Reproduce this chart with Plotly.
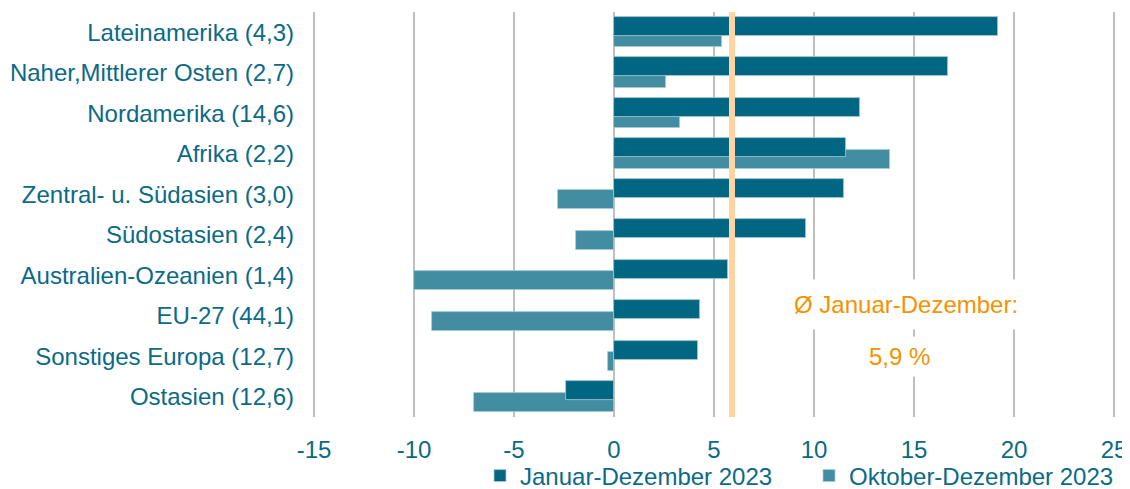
import plotly.graph_objects as go

categories = [
    "Lateinamerika (4,3)",
    "Naher,Mittlerer Osten (2,7)",
    "Nordamerika (14,6)",
    "Afrika (2,2)",
    "Zentral- u. Südasien (3,0)",
    "Südostasien (2,4)",
    "Australien-Ozeanien (1,4)",
    "EU-27 (44,1)",
    "Sonstiges Europa (12,7)",
    "Ostasien (12,6)",
]
jan_dez = [19.2, 16.7, 12.3, 11.6, 11.5, 9.6, 5.7, 4.3, 4.2, -2.4]
okt_dez = [5.4, 2.6, 3.3, 13.8, -2.8, -1.9, -10.0, -9.1, -0.3, -7.0]
avg_value = 5.9
avg_label_1 = "Ø Januar-Dezember:"
avg_label_2 = "5,9 %"
x_ticks = [-15, -10, -5, 0, 5, 10, 15, 20, 25]

DARK = "#006682"
LIGHT = "#428DA2"
TEXT = "#0B6A86"
ORANGE = "#F39300"
FONT = "Liberation Sans, Arial, sans-serif"
FS = 24

fig = go.Figure()
fig.add_trace(go.Bar(
    y=categories, x=okt_dez, orientation="h", name="Oktober-Dezember 2023",
    marker=dict(color=LIGHT, line=dict(color="#A8CBD6", width=0.8)),
    width=0.47, offset=-0.095, legendrank=2,
))
fig.add_trace(go.Bar(
    y=categories, x=jan_dez, orientation="h", name="Januar-Dezember 2023",
    marker=dict(color=DARK, line=dict(color="#A8CBD6", width=0.8)),
    width=0.47, offset=-0.381, legendrank=1,
))

fig.add_shape(type="line", xref="x", yref="paper", x0=avg_value, x1=avg_value,
              y0=0, y1=1, line=dict(color="#FFD3A2", width=6), layer="above")

fig.add_annotation(x=14.6, y=0.215, xref="x", yref="paper", text=avg_label_1,
                   showarrow=False, bgcolor="white", borderpad=11,
                   font=dict(color=ORANGE, size=FS, family=FONT))
fig.add_annotation(x=14.25, y=0.1, xref="x", yref="paper", text=avg_label_2,
                   showarrow=False, bgcolor="white", borderpad=6,
                   font=dict(color=ORANGE, size=FS, family=FONT))

# the page body adds an 8px offset; the figure is sized to fill the rest
fig.update_layout(
    width=1122, height=481,
    margin=dict(l=301, r=11, t=4, b=72, autoexpand=False),
    paper_bgcolor="white", plot_bgcolor="white",
    barmode="overlay",
    bargap=0,
    font=dict(family=FONT, size=FS, color=TEXT),
    showlegend=True,
    legend=dict(orientation="h", x=(480 - 309) / 810, xanchor="left", y=-0.1457,
                yanchor="middle", font=dict(size=FS, color=TEXT), itemwidth=30,
                entrywidth=284, entrywidthmode="pixels", bgcolor="rgba(0,0,0,0)"),
    xaxis=dict(range=[-15.25, 25.25], tickvals=x_ticks, ticktext=[str(v) for v in x_ticks],
               showgrid=True, gridcolor="#BFBFBF", gridwidth=2,
               zeroline=True, zerolinecolor="#BFBFBF", zerolinewidth=2,
               showline=False, ticks="", tickfont=dict(size=FS, color=TEXT),
               ticklabelstandoff=16, automargin=False, fixedrange=True),
    yaxis=dict(type="category", categoryorder="array", categoryarray=categories,
               autorange="reversed", showgrid=False, zeroline=False, showline=False,
               ticks="", tickfont=dict(size=FS, color=TEXT), ticklabelstandoff=14,
               automargin=False, fixedrange=True),
)

fig.write_html("out.html")
